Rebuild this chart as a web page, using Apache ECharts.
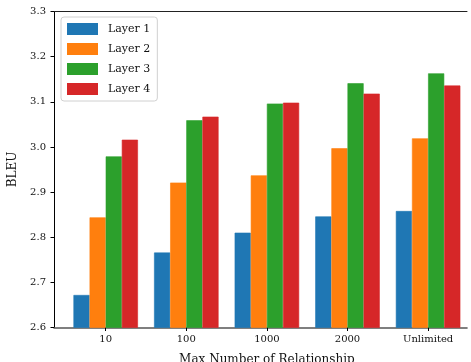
<!DOCTYPE html>
<html><head><meta charset="utf-8">
<script src="https://cdn.jsdelivr.net/npm/echarts@6/dist/echarts.min.js"></script>
<style>html,body{margin:0;padding:0;background:#fff;overflow:hidden}#c{width:471px;height:362px}</style>
</head><body><div id="c"></div>
<script>
var categories = ['10', '100', '1000', '2000', 'Unlimited'];
var layer1 = [2.672, 2.766, 2.810, 2.846, 2.858];
var layer2 = [2.844, 2.921, 2.937, 2.997, 3.019];
var layer3 = [2.979, 3.059, 3.096, 3.141, 3.163];
var layer4 = [3.016, 3.067, 3.098, 3.118, 3.136];
var seriesNames = ['Layer 1', 'Layer 2', 'Layer 3', 'Layer 4'];
var yTicks = [2.6, 2.7, 2.8, 2.9, 3.0, 3.1, 3.2, 3.3];
var colors = ['#1f77b4', '#ff7f0e', '#2ca02c', '#d62728'];
var FONT = 'DejaVu Serif';

var chart = echarts.init(document.getElementById('c'), null, {renderer: 'canvas'});
var data = [layer1, layer2, layer3, layer4];
var series = data.map(function (d, i) {
  return {
    name: seriesNames[i], type: 'bar', xAxisIndex: 1, yAxisIndex: 1,
    data: d, barWidth: 16.12, barGap: '0%',
    itemStyle: {color: colors[i], borderColor: colors[i], borderWidth: 0.6},
    animation: false
  };
});
chart.setOption({
  animation: false,
  color: colors,
  grid: [
    {left: 54, top: 11.5, height: 316, width: 413, containLabel: false, outerBoundsMode: 'none'},
    {left: 65.4, top: 11.5, height: 316, width: 403, containLabel: false, outerBoundsMode: 'none'}
  ],
  legend: {
    orient: 'vertical', left: 61, top: 17,
    data: seriesNames,
    icon: 'rect', itemWidth: 29, itemHeight: 10, itemGap: 8,
    padding: [6, 7, 6, 6],
    borderColor: '#d0d0d0', borderWidth: 1, borderRadius: 3,
    backgroundColor: 'rgba(255,255,255,0.8)',
    textStyle: {fontFamily: FONT, fontSize: 11, color: '#111', lineHeight: 12, padding: [0, 0, 0, 6]}
  },
  xAxis: [
    {type: 'value', gridIndex: 0, min: 0, max: 1, show: true, position: 'bottom',
     axisLine: {show: true, lineStyle: {color: '#555', width: 1.6}},
     axisTick: {show: false}, axisLabel: {show: false}, splitLine: {show: false}, splitArea: {show: false}},
    {type: 'category', gridIndex: 1, data: categories,
     axisLine: {show: false}, splitLine: {show: false}, splitArea: {show: false},
     axisTick: {show: true, alignWithLabel: true, length: 3.5, lineStyle: {color: '#000', width: 1}},
     axisLabel: {fontFamily: FONT, fontSize: 10, color: '#111', margin: 7},
     name: 'Max Number of Relationship', nameLocation: 'middle', nameGap: 26,
     nameTextStyle: {fontFamily: FONT, fontSize: 12, color: '#111'}},
    {type: 'value', gridIndex: 0, min: 0, max: 1, show: true, position: 'top',
     axisLine: {show: true, lineStyle: {color: '#222', width: 1}},
     axisTick: {show: false}, axisLabel: {show: false}, splitLine: {show: false}, splitArea: {show: false}}
  ],
  yAxis: [
    {type: 'value', gridIndex: 0, min: 2.6, max: 3.3, interval: 0.1,
     axisLine: {show: true, lineStyle: {color: '#000', width: 1}},
     axisTick: {show: true, length: 3.5, lineStyle: {color: '#000'}},
     axisLabel: {fontFamily: FONT, fontSize: 10, color: '#111', margin: 8,
       formatter: function (v) { var t = yTicks.filter(function (x) { return Math.abs(x - v) < 1e-6; }); return t.length ? t[0].toFixed(1) : ''; }},
     splitLine: {show: false}, splitArea: {show: false},
     name: 'BLEU', nameLocation: 'middle', nameGap: 27,
     nameTextStyle: {fontFamily: FONT, fontSize: 12, color: '#111'}},
    {type: 'value', gridIndex: 1, min: 2.6, max: 3.3, show: false,
     axisLine: {show: false}, axisTick: {show: false}, axisLabel: {show: false},
     splitLine: {show: false}, splitArea: {show: false}}
  ],
  series: series
});
</script></body></html>
